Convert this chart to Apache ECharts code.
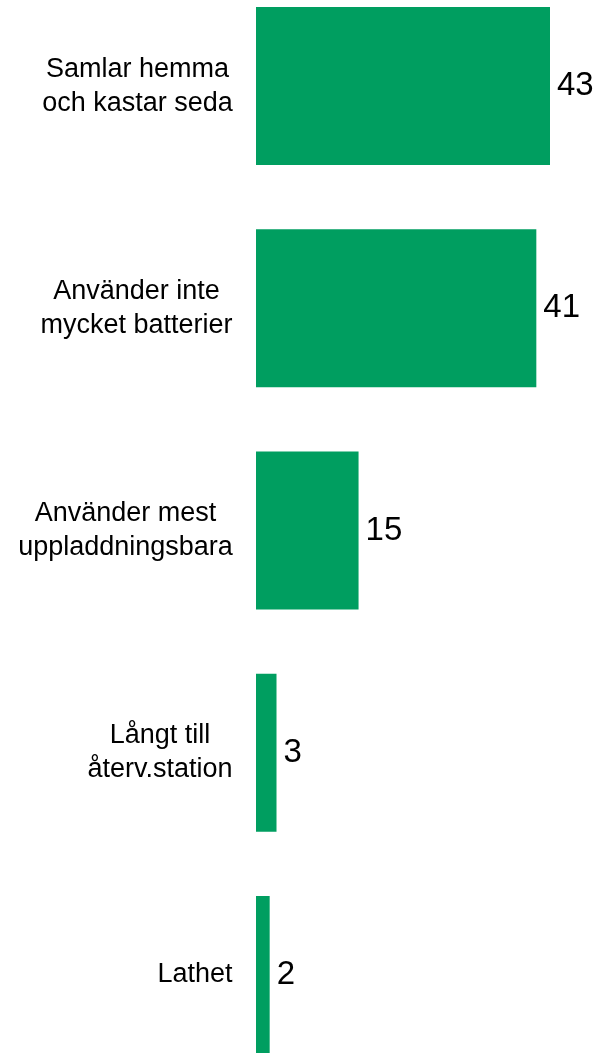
<!DOCTYPE html>
<html>
<head>
<meta charset="utf-8">
<script src="https://cdn.jsdelivr.net/npm/echarts@6/dist/echarts.min.js"></script>
<style>
  html, body { margin: 0; padding: 0; background: #fff; overflow: hidden; }
  #main { width: 597px; height: 1111px; margin-top: -25px; }
</style>
</head>
<body>
<div id="main"></div>
<script>
// data
var categories = [
  'Samlar hemma\noch kastar seda',
  'Använder inte\nmycket batterier',
  'Använder mest\nuppladdningsbara',
  'Långt till\nåterv.station',
  'Lathet'
];
var values = [43, 41, 15, 3, 2];

var labelFont = '27px "Liberation Sans", Arial, sans-serif';

// mät bredaste raden så att raderna centreras inom blocket
var ctx = document.createElement('canvas').getContext('2d');
ctx.font = labelFont;
function blockWidth(txt) {
  var w = 0;
  txt.split('\n').forEach(function (l) { w = Math.max(w, ctx.measureText(l).width); });
  return Math.ceil(w);
}
var rich = {};
categories.forEach(function (c, i) {
  rich['c' + i] = {
    width: blockWidth(c),
    align: 'center',
    fontSize: 27,
    lineHeight: 34,
    fontFamily: '"Liberation Sans", Arial, sans-serif',
    color: '#000'
  };
});

var myChart = echarts.init(document.getElementById('main'));

var option = {
  animation: false,
  grid: {
    left: 256,
    width: 294,
    top: 0,
    height: 1111,
    containLabel: false
  },
  xAxis: {
    type: 'value',
    min: 0,
    max: 43,
    show: false
  },
  yAxis: {
    type: 'category',
    inverse: true,
    data: categories,
    axisLine: { show: false },
    axisTick: { show: false },
    splitLine: { show: false },
    axisLabel: {
      margin: 23,
      align: 'right',
      formatter: function (val, idx) {
        return val.split('\n').map(function (l) {
          return '{c' + idx + '|' + l + '}';
        }).join('\n');
      },
      rich: rich
    }
  },
  series: [
    {
      type: 'bar',
      data: values,
      barWidth: 158,
      itemStyle: { color: '#009E60' },
      label: {
        show: true,
        position: 'right',
        distance: 7,
        color: '#000',
        fontSize: 33,
        fontFamily: '"Liberation Sans", Arial, sans-serif'
      }
    }
  ]
};

myChart.setOption(option);
</script>
</body>
</html>
